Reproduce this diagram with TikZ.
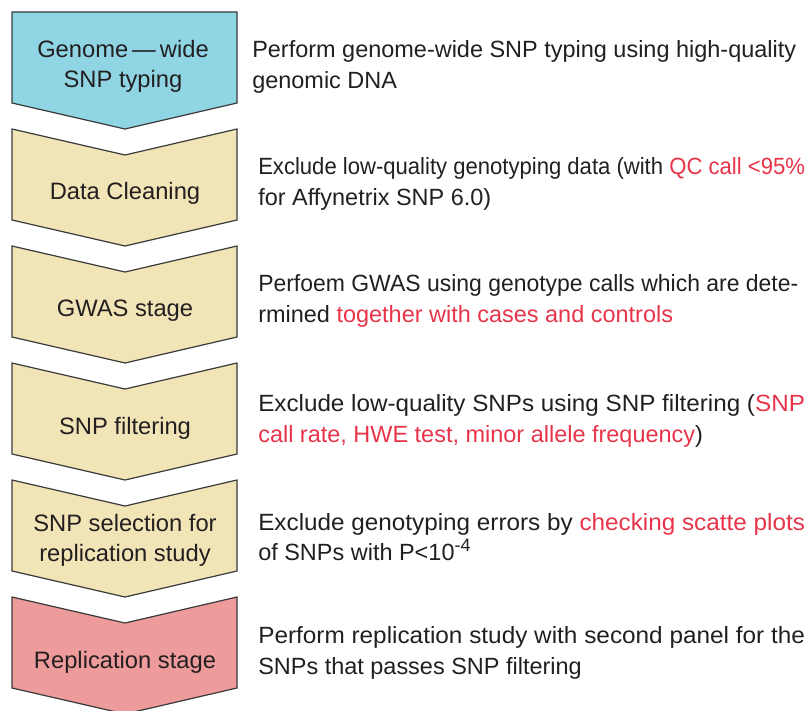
\documentclass[tikz,border=0pt]{standalone}
\usepackage{fontspec}
\usepackage{graphicx}
\setmainfont{Liberation Sans}
\definecolor{cyanfill}{HTML}{8FD5E4}
\definecolor{tanfill}{HTML}{F1E4B7}
\definecolor{pinkfill}{HTML}{EE9B9C}
\definecolor{redtxt}{HTML}{E8344A}
\definecolor{darktxt}{HTML}{231F20}
\definecolor{edge}{HTML}{3A3A3A}
\tikzset{
  chev/.style={draw=edge, line width=0.9pt, line join=miter},
  boxtext/.style={text=darktxt, align=center, inner sep=0pt, font=\fontsize{17.8}{22.5}\selectfont},
  desc/.style={text=darktxt, align=left, anchor=west, inner sep=0pt, font=\fontsize{17.6}{22.8}\selectfont},
}
\newcommand{\hl}[1]{\textcolor{redtxt}{#1}}
\newcommand{\sq}[2][410pt]{\resizebox{#1}{\height}{#2}}
\begin{document}
\begin{tikzpicture}[x=0.75pt,y=-0.75pt]
\useasboundingbox (0,0) rectangle (809,710);
% first chevron (flat top)
\path[chev, fill=cyanfill] (12,12) -- (237,12) -- (237,103) -- (125,129) -- (12,103) -- cycle;
% remaining chevrons
\foreach \y/\c in {129/tanfill,246/tanfill,363/tanfill,480/tanfill,597/pinkfill}{
  \path[chev, fill=\c] (12,\y) -- (125,\y+26) -- (237,\y) -- (237,\y+91) -- (125,\y+117) -- (12,\y+91) -- cycle;
}
% box labels
\node[boxtext] (b1) at (123,66) {Genome\,—\,wide\\SNP typing};
\node[boxtext] (b2) at (125,193) {Data Cleaning};
\node[boxtext] (b3) at (125,311) {GWAS stage};
\node[boxtext] (b4) at (125,428) {SNP filtering};
\node[boxtext] (b5) at (125,540) {SNP selection for\\replication study};
\node[boxtext] (b6) at (125,662) {Replication stage};
% descriptions
\node[desc] (t1) at (252,67) {Perform genome-wide SNP typing using high-quality\\genomic DNA};
\node[desc] (t2) at (258,184) {\sq{Exclude low-quality genotyping data (with \hl{QC call <95\%}}\\for Affynetrix SNP 6.0)};
\node[desc] (t3) at (258,301) {\sq[405pt]{Perfoem GWAS using genotype calls which are dete-}\\rmined \hl{together with cases and controls}};
\node[desc] (t4) at (258,421) {\sq{Exclude low-quality SNPs using SNP filtering (\hl{SNP}}\\\hl{call rate, HWE test, minor allele frequency})};
\node[desc] (t5) at (258,537) {\sq{Exclude genotyping errors by \hl{checking scatte plots}}\\of SNPs with P<10\raisebox{6.5pt}{\fontsize{13.5}{14}\selectfont -4}};
\node[desc] (t6) at (258,653) {\sq{Perform replication study with second panel for the}\\SNPs that passes SNP filtering};
\end{tikzpicture}
\end{document}
